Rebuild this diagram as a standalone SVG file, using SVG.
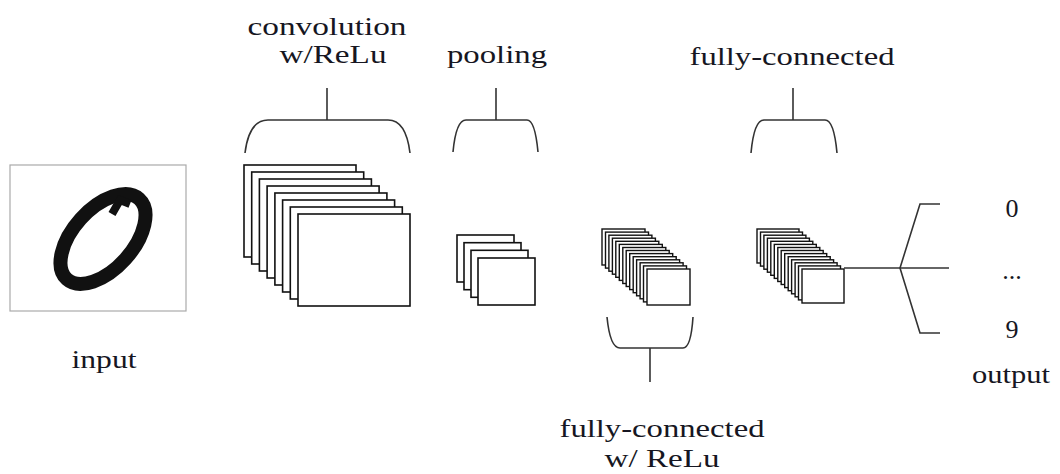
<svg xmlns="http://www.w3.org/2000/svg" width="1060" height="474" viewBox="0 0 1060 474">
  <style>
    .lbl { font-family: "Liberation Serif", "Times New Roman", serif; font-size: 26px; fill: #161622; text-anchor: middle; }
    .fm { fill: #ffffff; stroke: #111; stroke-width: 1.6; }
    .fs { fill: #ffffff; stroke: #111; stroke-width: 1.4; }
    .ln { fill: none; stroke: #333; stroke-width: 1.6; }
  </style>
  <defs>
    <rect id="convMap" width="112" height="92" class="fm"/>
    <rect id="poolMap" width="57" height="47" class="fm"/>
    <rect id="fc1Map" width="43" height="36" class="fs"/>
    <rect id="fc2Map" width="42" height="34" class="fs"/>
  </defs>
  <rect width="1060" height="474" fill="#ffffff"/>

  <g id="input">
    <rect x="10" y="165" width="176" height="146" fill="#ffffff" stroke="#aaaaaa" stroke-width="1.2"/>
    <g transform="translate(103,239) rotate(-48)">
      <ellipse cx="0" cy="0" rx="54" ry="30" fill="none" stroke="#111" stroke-width="14"/>
    </g>
    <path d="M112,214 L120,200 L130,204" fill="none" stroke="#111" stroke-width="8"/>
    <text class="lbl" x="104" y="368" textLength="65" lengthAdjust="spacingAndGlyphs">input</text>
  </g>

  <g id="conv">
    <use href="#convMap" x="244" y="165"/>
    <use href="#convMap" x="251.7" y="172"/>
    <use href="#convMap" x="259.4" y="179"/>
    <use href="#convMap" x="267.1" y="186"/>
    <use href="#convMap" x="274.9" y="193"/>
    <use href="#convMap" x="282.6" y="200"/>
    <use href="#convMap" x="290.3" y="207"/>
    <use href="#convMap" x="298" y="214"/>
    <text class="lbl" x="327" y="35" textLength="159" lengthAdjust="spacingAndGlyphs">convolution</text>
    <text class="lbl" x="333" y="63" textLength="107" lengthAdjust="spacingAndGlyphs">w/ReLu</text>
  </g>

  <g id="pool">
    <use href="#poolMap" x="457" y="235"/>
    <use href="#poolMap" x="464" y="242.7"/>
    <use href="#poolMap" x="471" y="250.3"/>
    <use href="#poolMap" x="478" y="258"/>
    <text class="lbl" x="497" y="63" textLength="100" lengthAdjust="spacingAndGlyphs">pooling</text>
  </g>

  <g id="fc1">
    <use href="#fc1Map" x="602" y="229"/>
    <use href="#fc1Map" x="605.5" y="232.1"/>
    <use href="#fc1Map" x="608.9" y="235.2"/>
    <use href="#fc1Map" x="612.4" y="238.2"/>
    <use href="#fc1Map" x="615.8" y="241.3"/>
    <use href="#fc1Map" x="619.3" y="244.4"/>
    <use href="#fc1Map" x="622.8" y="247.5"/>
    <use href="#fc1Map" x="626.2" y="250.5"/>
    <use href="#fc1Map" x="629.7" y="253.6"/>
    <use href="#fc1Map" x="633.2" y="256.7"/>
    <use href="#fc1Map" x="636.6" y="259.8"/>
    <use href="#fc1Map" x="640.1" y="262.8"/>
    <use href="#fc1Map" x="643.5" y="265.9"/>
    <use href="#fc1Map" x="647" y="269"/>
    <text class="lbl" x="662" y="437" textLength="205" lengthAdjust="spacingAndGlyphs">fully-connected</text>
    <text class="lbl" x="662" y="467" textLength="115" lengthAdjust="spacingAndGlyphs">w/ ReLu</text>
  </g>

  <g id="fc2">
    <use href="#fc2Map" x="757" y="229"/>
    <use href="#fc2Map" x="760.5" y="232.1"/>
    <use href="#fc2Map" x="763.9" y="235.2"/>
    <use href="#fc2Map" x="767.4" y="238.2"/>
    <use href="#fc2Map" x="770.8" y="241.3"/>
    <use href="#fc2Map" x="774.3" y="244.4"/>
    <use href="#fc2Map" x="777.8" y="247.5"/>
    <use href="#fc2Map" x="781.2" y="250.5"/>
    <use href="#fc2Map" x="784.7" y="253.6"/>
    <use href="#fc2Map" x="788.2" y="256.7"/>
    <use href="#fc2Map" x="791.6" y="259.8"/>
    <use href="#fc2Map" x="795.1" y="262.8"/>
    <use href="#fc2Map" x="798.5" y="265.9"/>
    <use href="#fc2Map" x="802" y="269"/>
    <text class="lbl" x="792" y="65" textLength="205" lengthAdjust="spacingAndGlyphs">fully-connected</text>
  </g>

  <g id="output">
    <text class="lbl" x="1012" y="217">0</text>
    <text class="lbl" x="1012" y="279">...</text>
    <text class="lbl" x="1012" y="338">9</text>
    <text class="lbl" x="1011" y="383" textLength="78" lengthAdjust="spacingAndGlyphs">output</text>
  </g>

  <g id="connectors">
    <path class="ln" d="M245,153 Q249,120 268,120 L388,120 Q406,120 410,153"/>
    <path class="ln" d="M327,88 L327,120"/>
    <path class="ln" d="M453,152 Q456,120 466,120 L527,120 Q535,120 538,152"/>
    <path class="ln" d="M496,88 L496,120"/>
    <path class="ln" d="M751,153 Q754,120 764,120 L825,120 Q834,120 837,153"/>
    <path class="ln" d="M793,88 L793,120"/>
    <path class="ln" d="M607,317 Q610,348 620,348 L683,348 Q691,348 693,317"/>
    <path class="ln" d="M650,348 L650,382"/>
    <path class="ln" d="M844,268 L949,268"/>
    <path class="ln" d="M940,204 L920,204 L900,268 L920,333 L940,333"/>
  </g>
</svg>
